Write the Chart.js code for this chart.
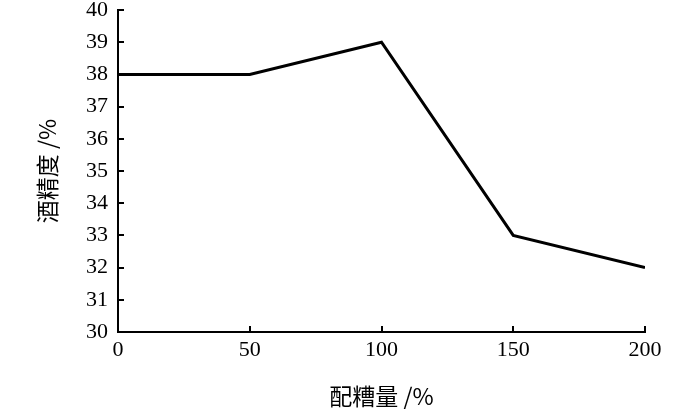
<!DOCTYPE html>
<html>
<head>
<meta charset="utf-8">
<script src="https://cdn.jsdelivr.net/npm/chart.js@4/dist/chart.umd.min.js"></script>
<style>
  html, body { margin: 0; padding: 0; background: #fff; }
  #wrap { width: 700px; height: 412px; }
</style>
</head>
<body>
<div id="wrap"><canvas id="chart"></canvas></div>
<script>
const doses = [0, 50, 100, 150, 200];
const alcohol = [38, 38, 39, 33, 32];
const xTicks = [0, 50, 100, 150, 200];
const yTicks = [30, 31, 32, 33, 34, 35, 36, 37, 38, 39, 40];
const xTitle = '配糟量 /%';
const yTitle = '酒精度 /%';

// short tick marks pointing into the plot area
const innerTicks = {
  id: 'innerTicks',
  afterDraw(chart) {
    const { ctx, scales: { x, y } } = chart;
    ctx.save();
    ctx.strokeStyle = '#000';
    ctx.lineWidth = 2;
    ctx.beginPath();
    xTicks.forEach(v => {
      const px = Math.round(x.getPixelForValue(v));
      ctx.moveTo(px, y.bottom);
      ctx.lineTo(px, y.bottom - 6);
    });
    yTicks.forEach(v => {
      const py = Math.round(y.getPixelForValue(v));
      ctx.moveTo(x.left, py);
      ctx.lineTo(x.left + 6, py);
    });
    ctx.stroke();
    ctx.restore();
  }
};

const serif = '"Liberation Serif", "Times New Roman", serif';
const cjk = '"Noto Sans CJK SC", sans-serif';

new Chart(document.getElementById('chart'), {
  type: 'line',
  data: {
    datasets: [{
      data: doses.map((d, i) => ({ x: d, y: alcohol[i] })),
      borderColor: '#000',
      borderWidth: 3,
      pointRadius: 0,
      fill: false,
      tension: 0
    }]
  },
  options: {
    responsive: true,
    maintainAspectRatio: false,
    animation: false,
    layout: { padding: { top: 0, right: 55, left: 0, bottom: 0 } },
    plugins: { legend: { display: false }, tooltip: { enabled: false } },
    scales: {
      x: {
        type: 'linear',
        min: 0,
        max: 200,
        afterBuildTicks: s => { s.ticks = xTicks.map(v => ({ value: v })); },
        afterFit: s => { s.height = 80; },
        grid: { display: true, drawOnChartArea: false, drawTicks: false },
        border: { color: '#000', width: 2 },
        ticks: {
          color: '#000',
          padding: 7,
          font: { family: serif, size: 22, lineHeight: 1 }
        },
        title: {
          display: true,
          text: xTitle,
          color: '#000',
          padding: { top: 0, bottom: 2 },
          font: { family: cjk, size: 23 }
        }
      },
      y: {
        min: 30,
        max: 40,
        afterBuildTicks: s => { s.ticks = yTicks.map(v => ({ value: v })); },
        afterFit: s => { s.width = 118; s.paddingTop = 10; },
        grid: { display: true, drawOnChartArea: false, drawTicks: false },
        border: { color: '#000', width: 2 },
        ticks: {
          color: '#000',
          padding: 10,
          font: { family: serif, size: 22, lineHeight: 1 }
        },
        title: {
          display: true,
          text: yTitle,
          color: '#000',
          padding: { top: 33, bottom: 0 },
          font: { family: cjk, size: 23 }
        }
      }
    }
  },
  plugins: [innerTicks]
});
</script>
</body>
</html>
